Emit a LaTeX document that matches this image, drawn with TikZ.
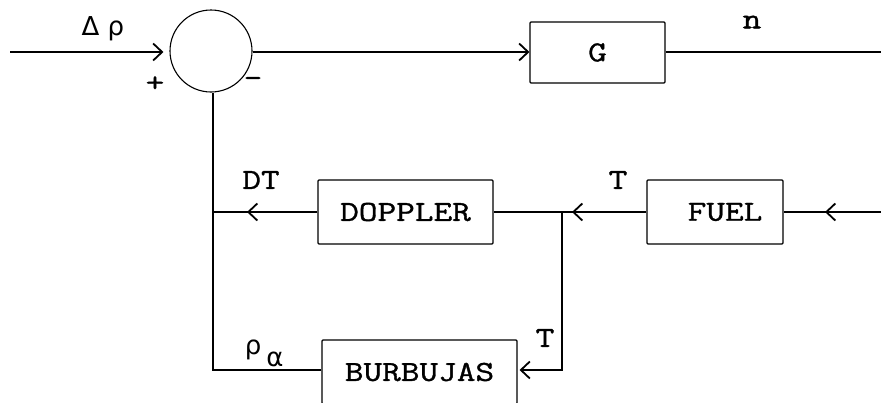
\documentclass[tikz,border=0pt]{standalone}
\usepackage{fontspec}
\newfontfamily\tw{Latin Modern Mono}[FakeStretch=1.25,FakeBold=1.2]
\newfontfamily\gk{DejaVu Sans}
\usetikzlibrary{arrows.meta,decorations.markings}
\begin{document}
\begin{tikzpicture}[x=1pt,y=-1pt,line width=1.1pt,
  txt/.style={font=\tw\fontsize{29}{31}\selectfont},
  gtxt/.style={font=\gk\fontsize{26}{28}\selectfont,inner sep=0pt},
  box/.style={draw,rounded corners=1pt,minimum height=64pt,inner sep=0pt,txt},
  lbl/.style={txt,inner sep=0pt},
  chev/.style={-{Straight Barb[length=9pt,width=17pt,line width=1.8pt]}},
  midchev/.style={postaction={decorate},decoration={markings,mark=at position #1 with {\arrow{Straight Barb[length=9pt,width=17pt,line width=1.8pt]}}}}
]
\useasboundingbox (0,0) rectangle (881,402);
\clip (0,0) rectangle (881,402);
% nodes
\node[draw,circle,minimum size=82pt,inner sep=0pt] (sum) at (211,51) {};
\node[box,minimum width=135pt,minimum height=61pt] (G) at (597.5,52.5) {G};
\node[box,minimum width=175pt] (dop) at (405.5,212) {DOPPLER};
\node[box,minimum width=136pt] (fuel) at (715,212) {\hspace{20pt}FUEL};
\node[box,minimum width=195pt] (bur) at (419.5,372) {BURBUJAS};
% coordinates
\coordinate (in) at (10,52);
\coordinate (out) at (881,52);
\coordinate (fin) at (881,212);
\coordinate (j1) at (562,212);
\coordinate (j1b) at (562,370);
\coordinate (j2) at (213,212);
\coordinate (j3) at (213,370);
% connectors
\draw[chev,shorten >=6pt] (in) -- (sum.west |- in);
\draw[chev] (sum.east |- in) -- (G.west |- in);
\draw (G.east |- out) -- (out);
\draw[midchev=56pt] (fin) -- (fuel.east);
\draw[midchev=-10pt] (fuel.west) -- (j1);
\draw (j1) -- (dop.east);
\draw[midchev=-34pt] (dop.west) -- (j2);
\draw[chev,shorten >=2pt] (j1) -- (j1b) -- (bur.east |- j1b);
\draw (bur.west |- j3) -- (j3) -- (sum.south -| j3);
% labels
\node[gtxt] (ldrho) at (103,29) {Δ ρ};
\node[lbl] (lplus) at (155,84) {+};
\node[lbl] (lminus) at (253,82) {-};
\node[lbl] (ln) at (752,22) {n};
\node[lbl] (lDT) at (261,180) {DT};
\node[lbl] (lT1) at (618,180) {T};
\node[lbl] (lT2) at (545,338) {T};
\node[gtxt] (lrho) at (253,350) {ρ};
\node[gtxt] (lalpha) at (275,359) {α};
\end{tikzpicture}
\end{document}
